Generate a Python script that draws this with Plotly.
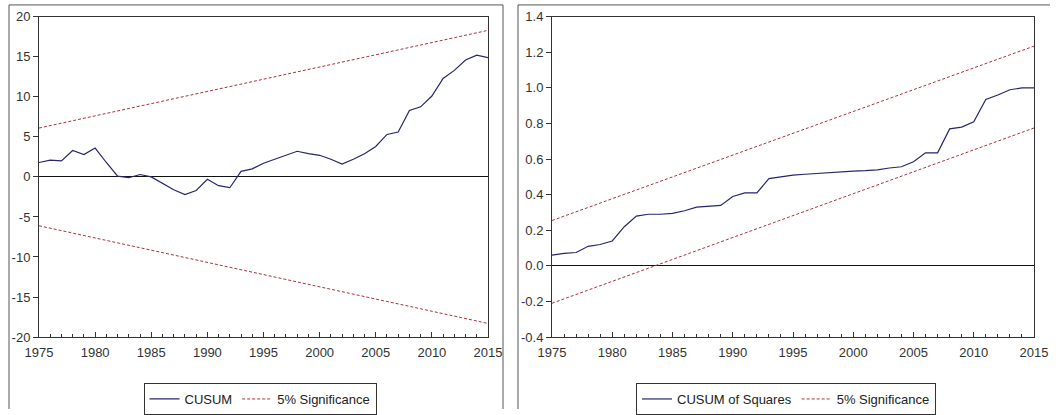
import plotly.graph_objects as go

years = list(range(1975, 2016))
cusum = [1.8, 2.1, 2.0, 3.3, 2.8, 3.6, 1.8, 0.1, -0.1, 0.3, 0.0, -0.8, -1.6, -2.2, -1.7,
         -0.3, -1.1, -1.35, 0.7, 1.0, 1.7, 2.2, 2.7, 3.2, 2.9, 2.7, 2.2, 1.6, 2.2, 2.9,
         3.8, 5.3, 5.6, 8.3, 8.75, 10.1, 12.3, 13.3, 14.6, 15.2, 14.9]
cusum_bound_years = [1975, 2015]
cusum_upper = [6.1, 18.3]
cusum_lower = [-6.1, -18.3]

cusumsq = [0.06, 0.07, 0.075, 0.11, 0.12, 0.14, 0.22, 0.28, 0.29, 0.29, 0.295, 0.31, 0.33,
           0.335, 0.34, 0.39, 0.41, 0.41, 0.49, 0.50, 0.51, 0.515, 0.52, 0.524, 0.53, 0.533,
           0.535, 0.54, 0.55, 0.557, 0.585, 0.635, 0.635, 0.77, 0.78, 0.81, 0.935, 0.96,
           0.99, 1.0, 1.0]
sq_upper = [0.255, 1.235]
sq_lower = [-0.21, 0.775]

x_ticks = [1975, 1980, 1985, 1990, 1995, 2000, 2005, 2010, 2015]
y1_ticks = [20, 15, 10, 5, 0, -5, -10, -15, -20]
y1_labels = ["20", "15", "10", "5", "0", "-5", "-10", "-15", "-20"]
y2_ticks = [1.4, 1.2, 1.0, 0.8, 0.6, 0.4, 0.2, 0.0, -0.2, -0.4]
y2_labels = ["1.4", "1.2", "1.0", "0.8", "0.6", "0.4", "0.2", "0.0", "-0.2", "-0.4"]

W, H = 1060, 415
blue = "#26266f"
red = "#a8343c"
axcol = "#333333"
font = dict(family="Liberation Sans, Arial, sans-serif", size=13, color="#333333")

fig = go.Figure()
fig.add_trace(go.Scatter(x=years, y=cusum, mode="lines", name="CUSUM",
                         line=dict(color=blue, width=1.2), xaxis="x", yaxis="y", legend="legend"))
fig.add_trace(go.Scatter(x=cusum_bound_years, y=cusum_upper, mode="lines", name="5% Significance",
                         line=dict(color=red, width=1, dash="3px,2px"), xaxis="x", yaxis="y", legend="legend"))
fig.add_trace(go.Scatter(x=cusum_bound_years, y=cusum_lower, mode="lines", name="5% Significance",
                         showlegend=False,
                         line=dict(color=red, width=1, dash="3px,2px"), xaxis="x", yaxis="y"))
fig.add_trace(go.Scatter(x=years, y=cusumsq, mode="lines", name="CUSUM of Squares",
                         line=dict(color=blue, width=1.2), xaxis="x2", yaxis="y2", legend="legend2"))
fig.add_trace(go.Scatter(x=cusum_bound_years, y=sq_upper, mode="lines", name="5% Significance",
                         line=dict(color=red, width=1, dash="3px,2px"), xaxis="x2", yaxis="y2", legend="legend2"))
fig.add_trace(go.Scatter(x=cusum_bound_years, y=sq_lower, mode="lines", name="5% Significance",
                         showlegend=False,
                         line=dict(color=red, width=1, dash="3px,2px"), xaxis="x2", yaxis="y2"))

ydom = [1 - 342 / H, 1 - 17 / H]

def xaxis(dom, anchor):
    return dict(domain=dom, anchor=anchor, range=[1975, 2015], tickvals=x_ticks,
                ticks="inside", ticklen=5, tickcolor=axcol, showline=True, linecolor=axcol,
                linewidth=1, mirror=True, showgrid=False, zeroline=False,
                minor=dict(dtick=1, tick0=1975, ticks="inside", ticklen=3, tickcolor=axcol),
                tickfont=font, automargin=False, ticklabelstandoff=3)

def yaxis(rng, tv, tt, anchor):
    return dict(domain=ydom, anchor=anchor, range=rng, tickvals=tv, ticktext=tt,
                ticks="outside", ticklen=5, tickcolor=axcol, showline=True, linecolor=axcol,
                linewidth=1, mirror=True, showgrid=False, zeroline=True, zerolinecolor="#111111",
                zerolinewidth=1, tickfont=font, automargin=False)

legend_common = dict(orientation="h", bgcolor="white", bordercolor=axcol, borderwidth=1,
                     font=dict(family="Liberation Sans, Arial, sans-serif", size=13, color="#222222"),
                     xanchor="center", yanchor="top", y=1 - 389 / H, yref="paper",
                     itemwidth=30, tracegroupgap=0)

edge = dict(type="line", xref="paper", yref="paper", line=dict(color="#555555", width=1),
            layer="below")

fig.update_layout(
    width=W, height=H, autosize=False,
    margin=dict(l=0, r=0, t=0, b=0),
    paper_bgcolor="white", plot_bgcolor="white",
    font=font,
    xaxis=xaxis([39 / W, 488 / W], "y"),
    yaxis=yaxis([-20, 20], y1_ticks, y1_labels, "x"),
    xaxis2=xaxis([552 / W, 1034 / W], "y2"),
    yaxis2=yaxis([-0.4, 1.4], y2_ticks, y2_labels, "x2"),
    legend=dict(legend_common, x=260 / W),
    legend2=dict(legend_common, x=786 / W),
    shapes=[
        dict(edge, x0=9 / W, x1=9 / W, y0=0, y1=1 - 5 / H),
        dict(edge, x0=9 / W, x1=503 / W, y0=1 - 5 / H, y1=1 - 5 / H),
        dict(edge, x0=503 / W, x1=503 / W, y0=0, y1=1 - 5 / H),
        dict(edge, x0=518 / W, x1=518 / W, y0=0, y1=1 - 5 / H),
        dict(edge, x0=518 / W, x1=1050 / W, y0=1 - 5 / H, y1=1 - 5 / H),
    ],
)

fig.write_html("out.html", config={"displayModeBar": False},
               post_script="document.body.style.margin='0';document.body.style.overflow='hidden';")
